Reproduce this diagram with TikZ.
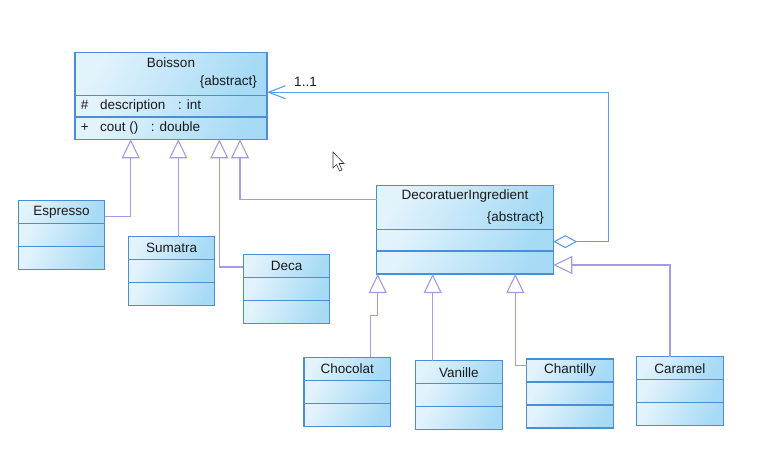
\documentclass[tikz,border=0pt]{standalone}
\usepackage{fontspec}
\setmainfont{Liberation Sans}
\usetikzlibrary{positioning,arrows.meta}

\definecolor{boxlight}{HTML}{E2F3FC}
\definecolor{boxdark}{HTML}{A6DAF5}
\definecolor{boxborder}{HTML}{4A8FD6}
\definecolor{inhline}{HTML}{A39BE6}
\definecolor{assocline}{HTML}{5E9DE6}
\definecolor{textgray}{HTML}{1A1A1A}

\begin{document}
\begin{tikzpicture}[x=1pt,y=-1pt,font=\fontsize{13.5}{15}\selectfont,text=textgray,
  classbox/.style={draw=boxborder, line width=1.2pt, left color=boxlight, right color=boxdark,
    shading angle=60, inner sep=0pt, outer sep=0pt, minimum width=86.5pt, minimum height=23pt},
  classtext/.style={inner sep=0pt},
  inherit/.style={draw=inhline, line width=1.1pt, -{Triangle[open, length=19pt, width=18pt, fill=white]}},
  aggreg/.style={draw=assocline, line width=1.1pt,
    {Diamond[open, length=24pt, width=13pt, fill=white]}-{Straight Barb[length=17pt, width=13pt]}}]

\fill[white] (0,0) rectangle (784,452);
\useasboundingbox (0,0) rectangle (784,452);

% Boisson
\node[classbox, anchor=north west, minimum width=192pt, minimum height=43pt] (boisson-h) at (75,52.7) {};
\node[classbox, below=0pt of boisson-h, minimum width=192pt, minimum height=21.3pt] (boisson-a) {};
\node[classbox, below=0pt of boisson-a, minimum width=192pt, minimum height=22.3pt] (boisson-o) {};
\node[classtext] (boisson-name) at ([yshift=-10pt]boisson-h.north) {Boisson};
\node[classtext, anchor=east] (boisson-abs) at ([xshift=-10pt,yshift=14pt]boisson-h.south east) {\{abstract\}};
\node[classtext, right=5.7pt of boisson-a.west] (boisson-attr) {\makebox[19.3pt][l]{\#}\makebox[78pt][l]{description}: int};
\node[classtext, right=5.7pt of boisson-o.west] (boisson-op) {\makebox[19.3pt][l]{+}\makebox[50.7pt][l]{cout ()}: double};

% DecoratuerIngredient
\node[classbox, anchor=north west, minimum width=176.6pt, minimum height=43.6pt] (di-h) at (376.7,185.7) {};
\node[classbox, below=0pt of di-h, minimum width=176.6pt, minimum height=21.7pt] (di-a) {};
\node[classbox, below=0pt of di-a, minimum width=176.6pt, minimum height=23pt] (di-o) {};
\node[classtext] (di-name) at ([yshift=-10.3pt]di-h.north) {DecoratuerIngredient};
\node[classtext, anchor=east] (di-abs) at ([xshift=-9.3pt,yshift=11.6pt]di-h.south east) {\{abstract\}};

% sous-classes de Boisson
\node[classbox, anchor=north west] (esp-h) at (18.3,200.7) {Espresso};
\node[classbox, below=0pt of esp-h] (esp-a) {};
\node[classbox, below=0pt of esp-a] (esp-o) {};

\node[classbox, anchor=north west] (sum-h) at (128.3,236.7) {Sumatra};
\node[classbox, below=0pt of sum-h] (sum-a) {};
\node[classbox, below=0pt of sum-a] (sum-o) {};

\node[classbox, anchor=north west] (deca-h) at (243.3,254.3) {Deca};
\node[classbox, below=0pt of deca-h] (deca-a) {};
\node[classbox, below=0pt of deca-a] (deca-o) {};

% ingredients
\node[classbox, anchor=north west] (choc-h) at (304,357.3) {Chocolat};
\node[classbox, below=0pt of choc-h] (choc-a) {};
\node[classbox, below=0pt of choc-a] (choc-o) {};

\node[classbox, anchor=north west] (van-h) at (415.7,360.7) {Vanille};
\node[classbox, below=0pt of van-h] (van-a) {};
\node[classbox, below=0pt of van-a] (van-o) {};

\node[classbox, anchor=north west] (chan-h) at (526.7,359) {Chantilly};
\node[classbox, below=0pt of chan-h] (chan-a) {};
\node[classbox, below=0pt of chan-a] (chan-o) {};

\node[classbox, anchor=north west] (car-h) at (636.7,356.7) {Caramel};
\node[classbox, below=0pt of car-h] (car-a) {};
\node[classbox, below=0pt of car-a] (car-o) {};

% arrow ends under Boisson and DecoratuerIngredient
\coordinate (b1) at ([xshift=55.7pt]boisson-o.south west);
\coordinate (b2) at ([xshift=103.3pt]boisson-o.south west);
\coordinate (b3) at ([xshift=144.3pt]boisson-o.south west);
\coordinate (b4) at ([xshift=165pt]boisson-o.south west);
\coordinate (d1) at ([xshift=1pt]di-o.south west);
\coordinate (d2) at ([xshift=56pt]di-o.south west);
\coordinate (d3) at ([xshift=138.6pt]di-o.south west);

% generalisations
\draw[inherit] ([yshift=-4.7pt]esp-h.east) -| (b1);
\draw[inherit] (sum-h.north -| b2) -- (b2);
\draw[inherit] ([yshift=-1.2pt]deca-h.west) -| (b3);
\draw[inherit] ([yshift=8pt]di-h.west) -| (b4);

\draw[inherit] ([xshift=23pt]choc-h.north) -- ++(0,-41.6) -| (d1);
\draw[inherit] (van-h.north -| d2) -- (d2);
\draw[inherit] ([yshift=5.3pt]chan-h.west) -| (d3);
\draw[inherit] ([xshift=-10pt]car-h.north) |- ([yshift=-2.5pt]di-o.east);

% aggregation
\draw[aggreg] ([yshift=-1.5pt]di-a.east) -- ++(55.2,0) |- ([yshift=-18pt]boisson-h.east);
\node[classtext] (mult) at (305.5,82) {1..1};

% mouse pointer
\draw[fill=white, draw=black!80, line width=0.6pt] (333,152) -- ++(0,16) -- ++(3.5,-3.5) -- ++(3,6.5)
  -- ++(2.5,-1) -- ++(-3,-6.5) -- ++(5,0) -- cycle;

\end{tikzpicture}
\end{document}
